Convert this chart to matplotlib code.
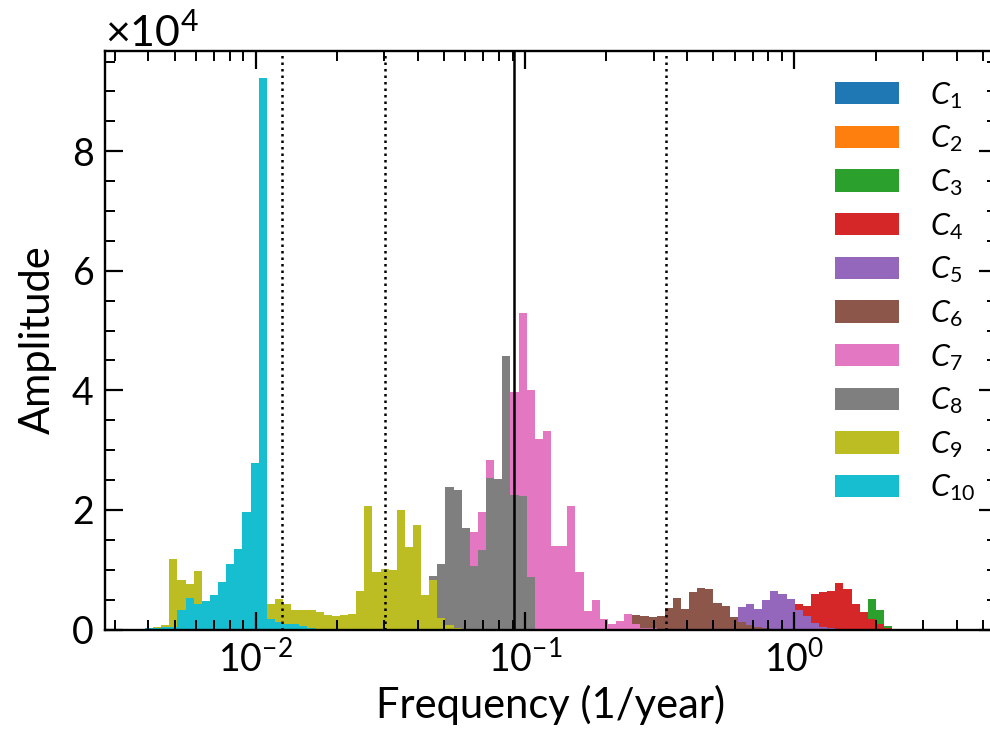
import numpy as np
import matplotlib
matplotlib.use("Agg")
import matplotlib.pyplot as plt
from matplotlib.ticker import MultipleLocator, AutoMinorLocator

plt.rcParams['font.family'] = ['Lato', 'DejaVu Sans']
plt.rcParams['mathtext.fontset'] = 'custom'
plt.rcParams['mathtext.rm'] = 'Lato'
plt.rcParams['mathtext.it'] = 'Lato:italic'
plt.rcParams['mathtext.bf'] = 'Lato:bold'

# amplitude per log-frequency bin (units of 1e4), each list starts at bin index given
n_bins = 92
c1_start, c1 = 89, [0.005, 0.005, 0.005]
c2_start, c2 = 88, [0.02, 0.03, 0.02, 0.01]
c3_start, c3 = 86, [0.02, 0.05, 0.10, 0.51, 0.33, 0.06]
c4_start, c4 = 78, [0.10, 0.30, 0.42, 0.40, 0.60, 0.62, 0.64, 0.78, 0.67, 0.42,
                    0.29, 0.18, 0.09, 0.03]
c5_start, c5 = 69, [0.03, 0.08, 0.15, 0.18, 0.38, 0.42, 0.35, 0.49, 0.64, 0.60,
                    0.51, 0.33, 0.22, 0.11, 0.04, 0.02]
c6_start, c6 = 57, [0.03, 0.08, 0.15, 0.24, 0.22, 0.21, 0.23, 0.36, 0.53, 0.34,
                    0.62, 0.69, 0.67, 0.44, 0.40, 0.21, 0.13, 0.08, 0.04, 0.02]
c7_start, c7 = 38, [0.10, 0.50, 1.63, 1.96, 2.83, 2.30, 3.60, 3.97, 5.30, 4.01,
                    3.19, 3.32, 1.40, 1.39, 2.06, 0.96, 0.31, 0.49, 0.18, 0.09,
                    0.15, 0.26, 0.09, 0.03, 0.02]
c8_start, c8 = 35, [0.89, 1.09, 2.38, 2.34, 1.69, 1.07, 1.33, 2.54, 2.52, 4.57,
                    2.25, 2.23, 0.87]
c9_start, c9 = 0, [0.03, 0.04, 0.07, 1.18, 0.82, 0.76, 0.98, 0.35, 0.30, 0.30,
                   0.35, 0.40, 0.40, 0.45, 0.45, 0.42, 0.51, 0.42, 0.33, 0.33,
                   0.33, 0.29, 0.24, 0.22, 0.24, 0.26, 0.64, 2.07, 0.96, 1.02,
                   1.00, 2.00, 1.38, 1.74, 0.58, 0.82, 0.20, 0.08, 0.03]
c10_start, c10 = 0, [0.02, 0.03, 0.04, 0.05, 0.33, 0.53, 0.43, 0.47, 0.58, 0.80,
                     1.09, 1.35, 1.97, 2.79, 9.22, 0.18, 0.12, 0.09, 0.09, 0.06,
                     0.03, 0.01]

components = [(c1_start, c1), (c2_start, c2), (c3_start, c3), (c4_start, c4),
              (c5_start, c5), (c6_start, c6), (c7_start, c7), (c8_start, c8),
              (c9_start, c9), (c10_start, c10)]
labels = [r'$C_{%d}$' % (i + 1) for i in range(10)]

# reference periods (years)
solid_period = 11
dotted_periods = [80, 33, 3]

# log-spaced bin edges
edges = np.logspace(-2.4105, -2.4105 + n_bins * 0.030141, n_bins + 1)

fig = plt.figure(figsize=(9.9, 7.42), dpi=100)
ax = fig.add_axes([105 / 990, 1 - 629.5 / 742, (997 - 105) / 990, (629.5 - 50.7) / 742])

ymax = 0
for i, (start, vals) in enumerate(components):
    h = np.zeros(n_bins)
    h[start:start + len(vals)] = vals
    h = h * 1e4
    ymax = max(ymax, h.max())
    ax.stairs(h, edges, fill=True, color='C%d' % i, label=labels[i], lw=0)

ax.axvline(1 / solid_period, color='k', lw=1.8)
for p in dotted_periods:
    ax.axvline(1 / p, color='k', lw=1.8, ls=(0, (1, 1.6)))

ax.set_xscale('log')
ax.set_xlim(10 ** -2.559, 10 ** 0.7517)
ax.set_ylim(0, ymax * 1.05)
ax.yaxis.set_major_locator(MultipleLocator(2e4))
ax.yaxis.set_minor_locator(AutoMinorLocator(4))
ax.ticklabel_format(axis='y', style='sci', scilimits=(0, 0), useMathText=True)
ax.yaxis.get_offset_text().set_fontsize(31)

ax.tick_params(which='both', direction='in', top=True, right=True, labelsize=27)
ax.tick_params(which='major', length=13, width=1.6, pad=8)
ax.tick_params(which='minor', length=7, width=1.4)
for s in ax.spines.values():
    s.set_linewidth(1.7)

ax.set_xlabel('Frequency (1/year)', fontsize=30, labelpad=4)
ax.set_ylabel('Amplitude', fontsize=30, labelpad=10)

ax.legend(loc='upper right', bbox_to_anchor=(1.006, 0.997), frameon=False, fontsize=22,
          handlelength=2.1, handleheight=0.75, labelspacing=0.42, handletextpad=1.0)

fig.savefig('out.png', dpi=100)
